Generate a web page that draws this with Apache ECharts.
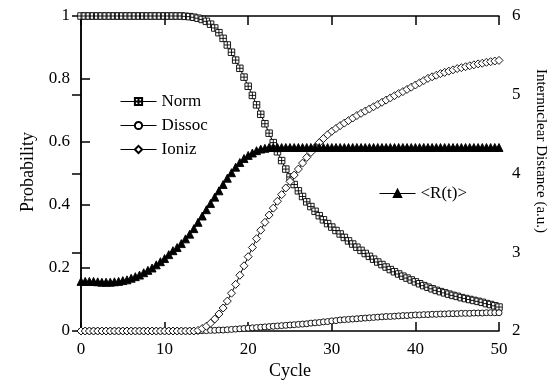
<!DOCTYPE html>
<html>
<head>
<meta charset="utf-8">
<script src="https://cdn.jsdelivr.net/npm/echarts@6/dist/echarts.min.js"></script>
<style>
  html, body { margin: 0; padding: 0; background: #fff; }
  #chart { width: 556px; height: 381px; }
</style>
</head>
<body>
<div id="chart"></div>
<script>
// time axis (cycles), sampled every half cycle
var cycles = [
  0, 0.5, 1, 1.5, 2, 2.5, 3, 3.5, 4, 4.5,
  5, 5.5, 6, 6.5, 7, 7.5, 8, 8.5, 9, 9.5,
  10, 10.5, 11, 11.5, 12, 12.5, 13, 13.5, 14, 14.5,
  15, 15.5, 16, 16.5, 17, 17.5, 18, 18.5, 19, 19.5,
  20, 20.5, 21, 21.5, 22, 22.5, 23, 23.5, 24, 24.5,
  25, 25.5, 26, 26.5, 27, 27.5, 28, 28.5, 29, 29.5,
  30, 30.5, 31, 31.5, 32, 32.5, 33, 33.5, 34, 34.5,
  35, 35.5, 36, 36.5, 37, 37.5, 38, 38.5, 39, 39.5,
  40, 40.5, 41, 41.5, 42, 42.5, 43, 43.5, 44, 44.5,
  45, 45.5, 46, 46.5, 47, 47.5, 48, 48.5, 49, 49.5,
  50
]

var norm = [
  1, 1, 1, 1, 1, 1, 1, 1, 1, 1,
  1, 1, 1, 1, 1, 1, 1, 1, 1, 1,
  1, 1, 1, 1, 1, 0.999, 0.998, 0.996, 0.993, 0.989,
  0.983, 0.974, 0.962, 0.947, 0.929, 0.908, 0.885, 0.86, 0.834, 0.806,
  0.777, 0.748, 0.718, 0.688, 0.658, 0.628, 0.598, 0.569, 0.541, 0.514,
  0.489, 0.465, 0.445, 0.427, 0.41, 0.395, 0.38, 0.366, 0.353, 0.341,
  0.33, 0.319, 0.308, 0.297, 0.286, 0.276, 0.266, 0.256, 0.246, 0.237,
  0.228, 0.219, 0.211, 0.203, 0.195, 0.188, 0.181, 0.174, 0.168, 0.162,
  0.156, 0.15, 0.144, 0.139, 0.134, 0.129, 0.125, 0.121, 0.117, 0.113,
  0.11, 0.106, 0.103, 0.1, 0.097, 0.094, 0.091, 0.087, 0.084, 0.08,
  0.076
]

var dissoc = [
  0, 0, 0, 0, 0, 0, 0, 0, 0, 0,
  0, 0, 0, 0, 0, 0, 0, 0, 0, 0,
  0, 0, 0, 0, 0, 0, 0, 0, 0, 0.001,
  0.001, 0.002, 0.002, 0.003, 0.003, 0.004, 0.005, 0.006, 0.007, 0.008,
  0.009, 0.01, 0.011, 0.012, 0.013, 0.014, 0.015, 0.016, 0.017, 0.018,
  0.019, 0.02, 0.021, 0.022, 0.023, 0.025, 0.026, 0.027, 0.029, 0.03,
  0.032, 0.033, 0.035, 0.036, 0.037, 0.038, 0.039, 0.04, 0.041, 0.042,
  0.043, 0.044, 0.045, 0.046, 0.046, 0.047, 0.048, 0.049, 0.049, 0.05,
  0.051, 0.051, 0.052, 0.052, 0.053, 0.053, 0.054, 0.054, 0.055, 0.055,
  0.055, 0.056, 0.056, 0.056, 0.057, 0.057, 0.057, 0.058, 0.058, 0.058,
  0.058
]

var ioniz = [
  0, 0, 0, 0, 0, 0, 0, 0, 0, 0,
  0, 0, 0, 0, 0, 0, 0, 0, 0, 0,
  0, 0, 0, 0, 0, 0, 0, 0, 0.002, 0.008,
  0.015, 0.025, 0.038, 0.054, 0.073, 0.095, 0.12, 0.148, 0.177, 0.207,
  0.236, 0.265, 0.293, 0.32, 0.345, 0.368, 0.39, 0.412, 0.433, 0.454,
  0.475, 0.495, 0.514, 0.533, 0.551, 0.567, 0.583, 0.598, 0.611, 0.623,
  0.634, 0.643, 0.652, 0.66, 0.668, 0.676, 0.684, 0.691, 0.698, 0.705,
  0.712, 0.719, 0.726, 0.733, 0.74, 0.747, 0.754, 0.76, 0.767, 0.774,
  0.781, 0.788, 0.795, 0.802, 0.807, 0.812, 0.817, 0.821, 0.825, 0.829,
  0.833, 0.836, 0.839, 0.842, 0.845, 0.848, 0.85, 0.853, 0.855, 0.857,
  0.859
]

// mean internuclear distance, right axis (a.u.)
var meanR = [
  2.63, 2.63, 2.63, 2.63, 2.625, 2.62, 2.62, 2.62, 2.625, 2.63,
  2.64, 2.65, 2.67, 2.69, 2.71, 2.74, 2.77, 2.8, 2.84, 2.88,
  2.92, 2.97, 3.02, 3.06, 3.11, 3.17, 3.23, 3.3, 3.38, 3.46,
  3.54, 3.62, 3.7, 3.78, 3.86, 3.94, 4.01, 4.08, 4.14, 4.19,
  4.23, 4.26, 4.29, 4.31, 4.32, 4.33, 4.33, 4.33, 4.33, 4.33,
  4.33, 4.33, 4.33, 4.33, 4.33, 4.33, 4.33, 4.33, 4.33, 4.33,
  4.33, 4.33, 4.33, 4.33, 4.33, 4.33, 4.33, 4.33, 4.33, 4.33,
  4.33, 4.33, 4.33, 4.33, 4.33, 4.33, 4.33, 4.33, 4.33, 4.33,
  4.33, 4.33, 4.33, 4.33, 4.33, 4.33, 4.33, 4.33, 4.33, 4.33,
  4.33, 4.33, 4.33, 4.33, 4.33, 4.33, 4.33, 4.33, 4.33, 4.33,
  4.33
]

var FONT = 'Liberation Serif'

function pairs(ys) {
  return cycles.map(function (c, i) { return [c, ys[i]] })
}

var axisLine = { show: true, lineStyle: { color: '#000', width: 1.5 } }
var axisTick = { show: true, inside: true, length: 9, lineStyle: { color: '#000', width: 1.5 } }
var labelStyle = { color: '#000', fontFamily: FONT, fontSize: 17 }

function baseSeries(name, ys, symbol, size, fill, yIndex) {
  return {
    name: name,
    type: 'line',
    yAxisIndex: yIndex || 0,
    data: pairs(ys),
    symbol: symbol,
    symbolSize: size,
    showAllSymbol: true,
    lineStyle: { color: '#000', width: 1 },
    itemStyle: { color: fill, borderColor: '#000', borderWidth: 0.9 },
    emphasis: { disabled: true },
  }
}

var legendText = { color: '#000', fontFamily: FONT, fontSize: 17 }

var chart = echarts.init(document.getElementById('chart'))
chart.setOption({
  animation: false,
  backgroundColor: '#fff',
  grid: { left: 81, right: 57, top: 16, bottom: 50 },
  legend: [
    {
      data: ['Norm', 'Dissoc', 'Ioniz'],
      orient: 'vertical',
      left: 115,
      top: 88,
      itemWidth: 36,
      itemHeight: 9,
      itemGap: 7,
      lineStyle: { width: 1 },
      textStyle: legendText,
    },
    {
      data: ['<R(t)>'],
      left: 374,
      top: 180,
      itemWidth: 36,
      itemHeight: 9,
      lineStyle: { width: 1 },
      textStyle: legendText,
    },
  ],
  xAxis: [
    {
      type: 'value',
      min: 0,
      max: 50,
      interval: 10,
      position: 'bottom',
      axisLine: axisLine,
      axisTick: axisTick,
      splitLine: { show: false },
      axisLabel: Object.assign({ margin: 10 }, labelStyle),
    },
    {
      type: 'value',
      min: 0,
      max: 50,
      interval: 10,
      position: 'top',
      axisLine: axisLine,
      axisTick: axisTick,
      splitLine: { show: false },
      axisLabel: { show: false },
    },
  ],
  yAxis: [
    {
      type: 'value',
      min: 0,
      max: 1,
      interval: 0.2,
      position: 'left',
      axisLine: axisLine,
      axisTick: axisTick,
      splitLine: { show: false },
      axisLabel: Object.assign({ margin: 11 }, labelStyle),
    },
    {
      type: 'value',
      min: 2,
      max: 6,
      interval: 1,
      position: 'right',
      axisLine: axisLine,
      axisTick: axisTick,
      splitLine: { show: false },
      axisLabel: Object.assign({ margin: 13 }, labelStyle),
    },
  ],
  graphic: [
    {
      type: 'text',
      x: 290,
      y: 371,
      style: { text: 'Cycle', fontFamily: FONT, fontSize: 18, fill: '#000', align: 'center', verticalAlign: 'middle' },
    },
    {
      type: 'text',
      x: 28,
      y: 172,
      rotation: Math.PI / 2,
      style: { text: 'Probability', fontFamily: FONT, fontSize: 18, fill: '#000', align: 'center', verticalAlign: 'middle' },
    },
    {
      type: 'text',
      x: 541,
      y: 151,
      rotation: -Math.PI / 2,
      style: { text: 'Internuclear Distance (a.u.)', fontFamily: FONT, fontSize: 15, fill: '#000', align: 'center', verticalAlign: 'middle' },
    },
  ],
  series: [
    baseSeries('Norm', norm, 'path://M0 0H10V10H0ZM5 0V10M0 5H10', 6.5, '#fff'),
    baseSeries('Dissoc', dissoc, 'circle', 6, '#fff'),
    baseSeries('Ioniz', ioniz, 'diamond', 8, '#fff'),
    baseSeries('<R(t)>', meanR, 'triangle', 8, '#000', 1),
  ],
})
</script>
</body>
</html>
